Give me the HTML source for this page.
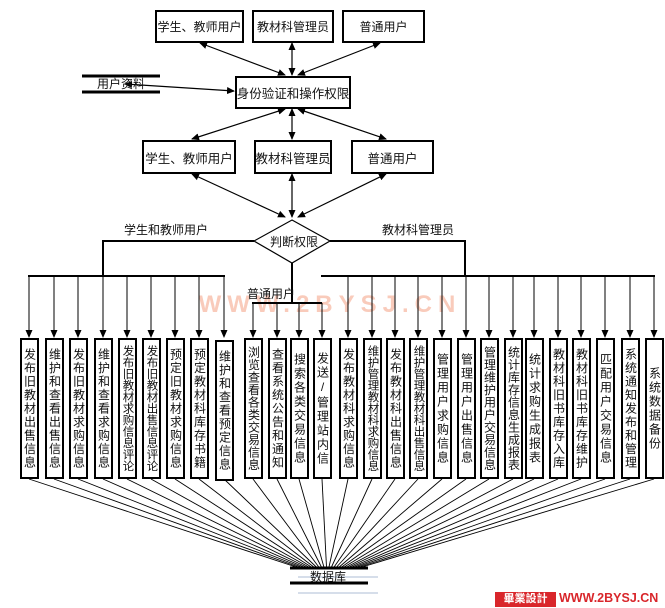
<!DOCTYPE html>
<html><head><meta charset="utf-8"><style>
body{margin:0;background:#fff;}
#c{position:relative;width:665px;height:608px;overflow:hidden;font-family:"Liberation Sans","Noto Sans CJK SC",sans-serif;color:#111;}
.b{position:absolute;box-sizing:border-box;border:2.5px solid #000;background:#fff;display:flex;align-items:center;justify-content:center;font-size:12px;white-space:nowrap;}
.v{position:absolute;box-sizing:border-box;border:2.5px solid #000;background:#fff;display:flex;align-items:center;justify-content:center;font-size:12px;width:19px;top:338px;height:141px;overflow:hidden;}
.v span{writing-mode:vertical-rl;text-orientation:upright;white-space:nowrap;line-height:13px;}
.t{position:absolute;font-size:12px;white-space:nowrap;}
svg{position:absolute;left:0;top:0;}
</style></head><body><div id="c">
<svg width="665" height="608" viewBox="0 0 665 608">
<defs><marker id="a" markerWidth="8" markerHeight="8" refX="7" refY="4" orient="auto-start-reverse" markerUnits="userSpaceOnUse"><path d="M0,0.5 L8,4 L0,7.5z" fill="#000"/></marker></defs>
<text x="330" y="312" text-anchor="middle" font-family="Liberation Sans, sans-serif" font-weight="bold" font-size="24" fill="#f9cbbb" letter-spacing="6">WWW.2BYSJ.CN</text>
<g stroke="#000" stroke-width="1.2" fill="none">
<line x1="200" y1="43" x2="285" y2="75" marker-start="url(#a)" marker-end="url(#a)"/>
<line x1="292" y1="43" x2="292" y2="75" marker-start="url(#a)" marker-end="url(#a)"/>
<line x1="380" y1="43" x2="298" y2="75" marker-start="url(#a)" marker-end="url(#a)"/>
<line x1="285" y1="109" x2="192" y2="139" marker-start="url(#a)" marker-end="url(#a)"/>
<line x1="292" y1="109" x2="292" y2="139" marker-start="url(#a)" marker-end="url(#a)"/>
<line x1="298" y1="109" x2="386" y2="139" marker-start="url(#a)" marker-end="url(#a)"/>
<line x1="192" y1="174" x2="285" y2="217" marker-start="url(#a)" marker-end="url(#a)"/>
<line x1="292" y1="174" x2="292" y2="217" marker-start="url(#a)" marker-end="url(#a)"/>
<line x1="386" y1="174" x2="298" y2="217" marker-start="url(#a)" marker-end="url(#a)"/>
<line x1="125" y1="84" x2="234" y2="91" marker-start="url(#a)" marker-end="url(#a)"/>
</g>
<g stroke="#000" stroke-width="3">
<line x1="82" y1="76" x2="160" y2="76"/><line x1="82" y1="92" x2="160" y2="92"/>
<line x1="290" y1="568" x2="368" y2="568"/><line x1="290" y1="583" x2="368" y2="583"/>
</g>
<g stroke="#c8d4e4" stroke-width="1.5"><line x1="298" y1="577" x2="378" y2="577"/><line x1="298" y1="593" x2="378" y2="593"/></g>
<polygon points="292,220 330,241 292,263 254,241" fill="#fff" stroke="#000" stroke-width="1.2"/>
<g stroke="#000" stroke-width="2" fill="none">
<polyline points="254,241 103,241 103,276"/>
<polyline points="330,241 465,241 465,276"/>
<line x1="28" y1="276" x2="225" y2="276"/>
<line x1="321" y1="276" x2="655" y2="276"/>
<line x1="292" y1="263" x2="292" y2="303"/>
<line x1="252" y1="303" x2="322" y2="303"/>
</g>
<g id="arr" stroke="#000" stroke-width="1" fill="none"></g>
<g id="fan" stroke="#000" stroke-width="0.9" fill="none"></g>
</svg>
<div class="b" style="left:155px;top:10px;width:89px;height:33px">学生、教师用户</div>
<div class="b" style="left:252px;top:10px;width:82px;height:33px">教材科管理员</div>
<div class="b" style="left:342px;top:10px;width:83px;height:33px">普通用户</div>
<div class="b" style="left:235px;top:76px;width:116px;height:33px;font-size:12.5px">身份验证和操作权限</div>
<div class="b" style="left:142px;top:140px;width:94px;height:34px;font-size:12.5px">学生、教师用户</div>
<div class="b" style="left:254px;top:140px;width:78px;height:34px;font-size:12.5px">教材科管理员</div>
<div class="b" style="left:351px;top:140px;width:83px;height:34px;font-size:12.5px">普通用户</div>
<div class="t" style="left:97px;top:75px">用户资料</div>
<div class="t" style="left:270px;top:233px;font-size:12px">判断权限</div>
<div class="t" style="left:124px;top:221px">学生和教师用户</div>
<div class="t" style="left:382px;top:221px">教材科管理员</div>
<div class="t" style="left:247px;top:285px">普通用户</div>
<div class="t" style="left:310px;top:568px;font-size:12px">数据库</div>
<div style="position:absolute;left:495px;top:592px;width:61px;height:15px;background:#d9262b;color:#fff;font-size:11px;font-weight:bold;line-height:15px;text-align:center">畢業設計</div>
<div class="t" style="left:559px;top:591px;color:#d9262b;font-weight:bold;font-size:12.5px">WWW.2BYSJ.CN</div>
<div id="boxes"></div>
</div>
<script>
var cx=[29,54,78,103,127,151,175,199,224,253,277,299,322,348,372,395,418,442,466,489,513,534,558,581,605,630,654];
var lb=["发布旧教材出售信息","维护和查看出售信息","发布旧教材求购信息","维护和查看求购信息","发布旧教材求购信息评论","发布旧教材出售信息评论","预定旧教材求购信息","预定教材科库存书籍","维护和查看预定信息","浏览查看各类交易信息","查看系统公告和通知","搜索各类交易信息","发送/管理站内信","发布教材科求购信息","维护管理教材科求购信息","发布教材科出售信息","维护管理教材科出售信息","管理用户求购信息","管理用户出售信息","管理维护用户交易信息","统计库存信息生成报表","统计求购生成报表","教材科旧书库存入库","教材科旧书库存维护","匹配用户交易信息","系统通知发布和管理","系统数据备份"];
var h="",a="",f="";
for(var i=0;i<cx.length;i++){
 var c=cx[i],n=lb[i].length;
 var fs=n>=11?11.5:12;
 var ls=n<=8?2:(n<=9?1.5:(n<=10?0.5:0));
 h+='<div class="v" style="left:'+(c-9.5)+'px'+(i==8?';top:340px':'')+'"><span style="font-size:'+fs+'px;letter-spacing:'+ls+'px">'+lb[i]+'</span></div>';
 var y0=(i>=9&&i<=12)?303:276;
 a+='<line x1="'+c+'" y1="'+y0+'" x2="'+c+'" y2="337" marker-end="url(#a)"/>';
 var ex=296+i*(66/26);
 f+='<line x1="'+c+'" y1="479" x2="'+ex.toFixed(1)+'" y2="567"/>';
}
document.getElementById("boxes").innerHTML=h;
document.getElementById("arr").innerHTML=a;
document.getElementById("fan").innerHTML=f;
</script>
</body></html>
